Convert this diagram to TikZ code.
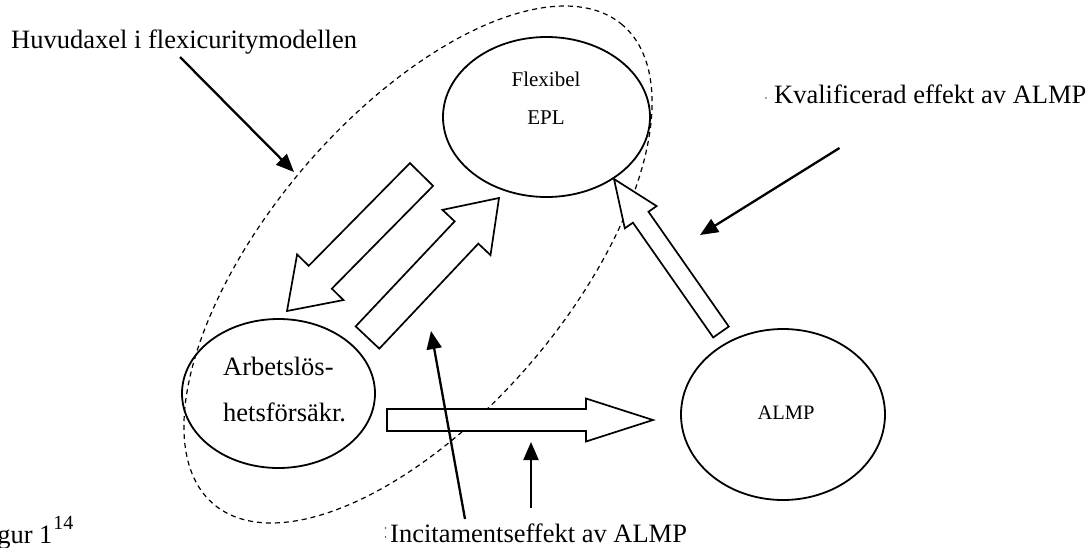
\documentclass[tikz,border=0pt]{standalone}
\usepackage{fontspec}
\setmainfont{Liberation Serif}
\usetikzlibrary{calc,arrows.meta,shapes.geometric}
\tikzset{
  ell/.style={draw, ellipse, line width=1.8pt, inner sep=0pt},
  lbl/.style={inner sep=0pt, font=\fontsize{26.5}{30}\selectfont},
  small/.style={inner sep=0pt, font=\fontsize{21}{24}\selectfont},
  blk/.style={draw, line width=1.7pt, line join=miter, fill=white},
  pointer/.style={line width=2.3pt, -{Triangle[length=18pt,width=15pt]}},
  hull/.style={line width=1.2pt, dash pattern=on 5pt off 4pt},
}
\newcommand\blockarr[5]{%
  \coordinate (bb) at ($(#2)!#5!(#1)$);
  \draw[blk] ($(#1)!#3!90:(#2)$) -- ($(bb)!#3!90:(#2)$) -- ($(bb)!#4!90:(#2)$)
    -- (#2) -- ($(bb)!#4!-90:(#2)$) -- ($(bb)!#3!-90:(#2)$) -- ($(#1)!#3!-90:(#2)$) -- cycle;
}
\begin{document}
\begin{tikzpicture}[x=1pt,y=-1pt]
\clip (0,0) rectangle (1089,547);
\fill[white] (0,0) rectangle (1089,547);

% dashed hull around the main axis
\draw[hull] plot[domain=0:360, samples=220]
  ({418+315*cos(\x)*0.6494-149.7*sin(\x)*0.7604},
   {264.5-315*cos(\x)*0.7604-149.7*sin(\x)*0.6494});

% ellipses
\node[ell, minimum width=207pt, minimum height=160pt] (epl) at (546.5,117) {};
\node[ell, minimum width=193pt, minimum height=149pt] (als) at (278.5,393.5) {};
\node[ell, minimum width=204pt, minimum height=171pt] (almp) at (783,414.5) {};

% texts in ellipses
\node[small, anchor=base] (flex) at (546,86) {Flexibel};
\node[small, anchor=base] (epltxt) at (546,124) {EPL};
\node[lbl, anchor=base west] (als1) at (223,375) {Arbetslös-};
\node[lbl, anchor=base west] (als2) at (223,421) {hetsförsäkr.};
\node[inner sep=0pt, font=\fontsize{20.5}{24}\selectfont, anchor=base] (almptxt) at (786,419) {ALMP};

% block arrows
\coordinate (a1t) at (421.5,174.5); \coordinate (a1p) at (287,311);
\coordinate (a2t) at (367.5,337.5); \coordinate (a2p) at (499,198);
\coordinate (a3t) at (387,420);     \coordinate (a3p) at (653,420);
\coordinate (a4t) at (721,332);     \coordinate (a4p) at (614,179);
\blockarr{a1t}{a1p}{16.25pt}{32.5pt}{47.4pt}
\blockarr{a2t}{a2p}{16.25pt}{33pt}{47.4pt}
\blockarr{a3t}{a3p}{11pt}{21.5pt}{67pt}
\blockarr{a4t}{a4p}{9.5pt}{19.4pt}{46.6pt}

% labels
\node[lbl, anchor=base west] (huv) at (11,48) {Huvudaxel i flexicuritymodellen};
\node[lbl, anchor=base west] (kval) at (774,103) {Kvalificerad effekt av ALMP};
\node[lbl, anchor=base west] (inc) at (390,542) {Incitamentseffekt av ALMP};
\node[lbl, anchor=base west] (fig) at (-25,543) {Figur 1\hspace{1pt}\raisebox{14pt}{\fontsize{20}{22}\selectfont 14}};
\fill[black!70] (766,98) circle (0.9);
\fill[black!70] (385.5,528) circle (0.9);
\fill[black!70] (385.5,537) circle (0.9);

% pointer arrows
\coordinate (h0) at (180,57);   \coordinate (h1) at (294,172);
\coordinate (k0) at (839.5,148); \coordinate (k1) at (700,235);
\coordinate (i0) at (465,519);  \coordinate (i1) at (431,331);
\coordinate (j0) at (531,508);  \coordinate (j1) at (531,442);
\draw[pointer] (h0) -- (h1);
\draw[pointer] (k0) -- (k1);
\draw[pointer] (i0) -- (i1);
\draw[pointer] (j0) -- (j1);
\end{tikzpicture}
\end{document}
